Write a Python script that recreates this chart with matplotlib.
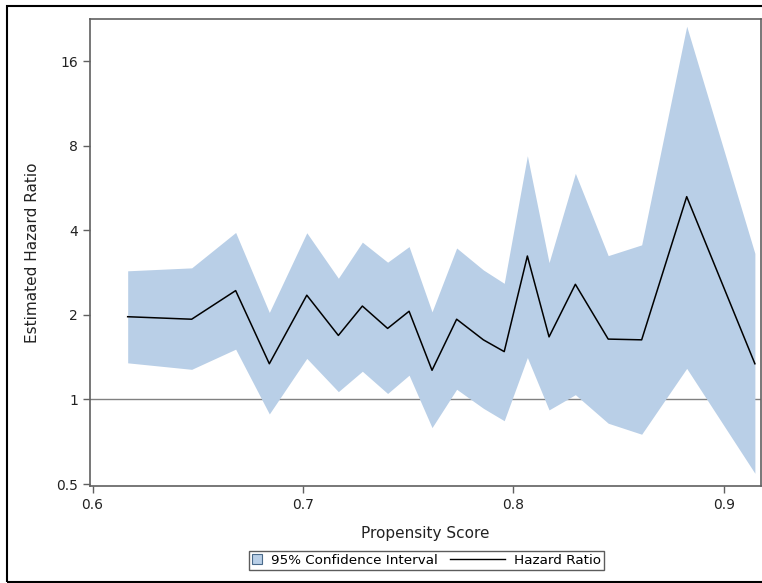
import numpy as np
import matplotlib
matplotlib.use('Agg')
import matplotlib.pyplot as plt
from matplotlib.patches import Rectangle, Patch
from matplotlib.lines import Line2D
from matplotlib.legend_handler import HandlerLine2D
from matplotlib.ticker import FixedLocator, FixedFormatter, NullLocator

# propensity score, hazard ratio and 95% CI bounds
score = [0.6167, 0.6471, 0.6680, 0.6840, 0.7018, 0.7168, 0.7282, 0.7402, 0.7504, 0.7613,
         0.7730, 0.7857, 0.7956, 0.8066, 0.8169, 0.8294, 0.8450, 0.8609, 0.8823, 0.9147]
hazard = [1.97, 1.93, 2.44, 1.34, 2.35, 1.69, 2.15, 1.79, 2.06, 1.27,
          1.93, 1.63, 1.48, 3.24, 1.67, 2.57, 1.64, 1.63, 5.27, 1.34]
upper = [2.87, 2.94, 3.93, 2.04, 3.92, 2.70, 3.63, 3.08, 3.50, 2.05,
         3.46, 2.89, 2.59, 7.37, 3.07, 6.38, 3.25, 3.55, 21.3, 3.31]
lower = [1.35, 1.28, 1.51, 0.888, 1.40, 1.066, 1.26, 1.05, 1.22, 0.794,
         1.087, 0.93, 0.84, 1.41, 0.918, 1.04, 0.823, 0.752, 1.29, 0.546]

yticks = [0.5, 1, 2, 4, 8, 16]
xticks = [0.6, 0.7, 0.8, 0.9]


class LongLineHandler(HandlerLine2D):
    # legend line that reaches back into the column gap
    def create_artists(self, legend, orig_handle, xdescent, ydescent, width, height, fontsize, trans):
        extra = 32.4
        y = height / 2 - ydescent
        line = Line2D([-xdescent - extra, width - xdescent], [y, y], color='black', linewidth=1.0)
        line.set_transform(trans)
        return [line]


plt.rcParams['font.family'] = 'DejaVu Sans'
fig = plt.figure(figsize=(7.62, 5.83), dpi=100)
ax = fig.add_axes([90 / 762, 1 - 486 / 583, 671 / 762, 467 / 583])

ax.fill_between(score, lower, upper, color='#b9cfe7', linewidth=0)
ax.plot(score, hazard, color='black', linewidth=1.1)
ax.axhline(1, color='#808080', linewidth=1.0, zorder=0.5)

ax.set_yscale('log', base=2)
ax.set_ylim(0.492, 22.6)
ax.set_xlim(0.5988, 0.9176)
ax.yaxis.set_major_locator(FixedLocator(yticks))
ax.yaxis.set_major_formatter(FixedFormatter([str(t) for t in yticks]))
ax.yaxis.set_minor_locator(NullLocator())
ax.set_xticks(xticks)
ax.set_xticklabels([str(t) for t in xticks])

for s in ax.spines.values():
    s.set_color('#606060')
    s.set_linewidth(1.2)
ax.tick_params(colors='#606060', labelcolor='#222222', labelsize=10, length=5, width=1)

ax.set_xlabel('Propensity Score', fontsize=11, color='#222222', labelpad=10)
ax.set_ylabel('Estimated Hazard Ratio', fontsize=11, color='#222222', labelpad=12)

ci_handle = Patch(facecolor='#b9cfe7', edgecolor='#4a6a8a', linewidth=0.8)
hr_handle = Line2D([], [], color='black', linewidth=1.0)
leg = fig.legend([ci_handle, hr_handle], ['95% Confidence Interval', 'Hazard Ratio'],
                 loc='center', bbox_to_anchor=(426.5 / 762, 1 - 560.5 / 583), ncol=2,
                 fontsize=9.7, frameon=True, fancybox=False, handlelength=0.74,
                 handleheight=0.74, borderpad=0.25, borderaxespad=0, columnspacing=4.3,
                 handletextpad=0.65, handler_map={hr_handle: LongLineHandler()})
leg.get_frame().set_edgecolor('#333333')
leg.get_frame().set_linewidth(1.0)

# outer border around the whole graph
fig.patches.append(Rectangle((7 / 762, 1 - 582 / 583), 1.2, 576 / 583, transform=fig.transFigure,
                             fill=False, edgecolor='black', linewidth=1.5))

fig.savefig('out.png', dpi=100)
